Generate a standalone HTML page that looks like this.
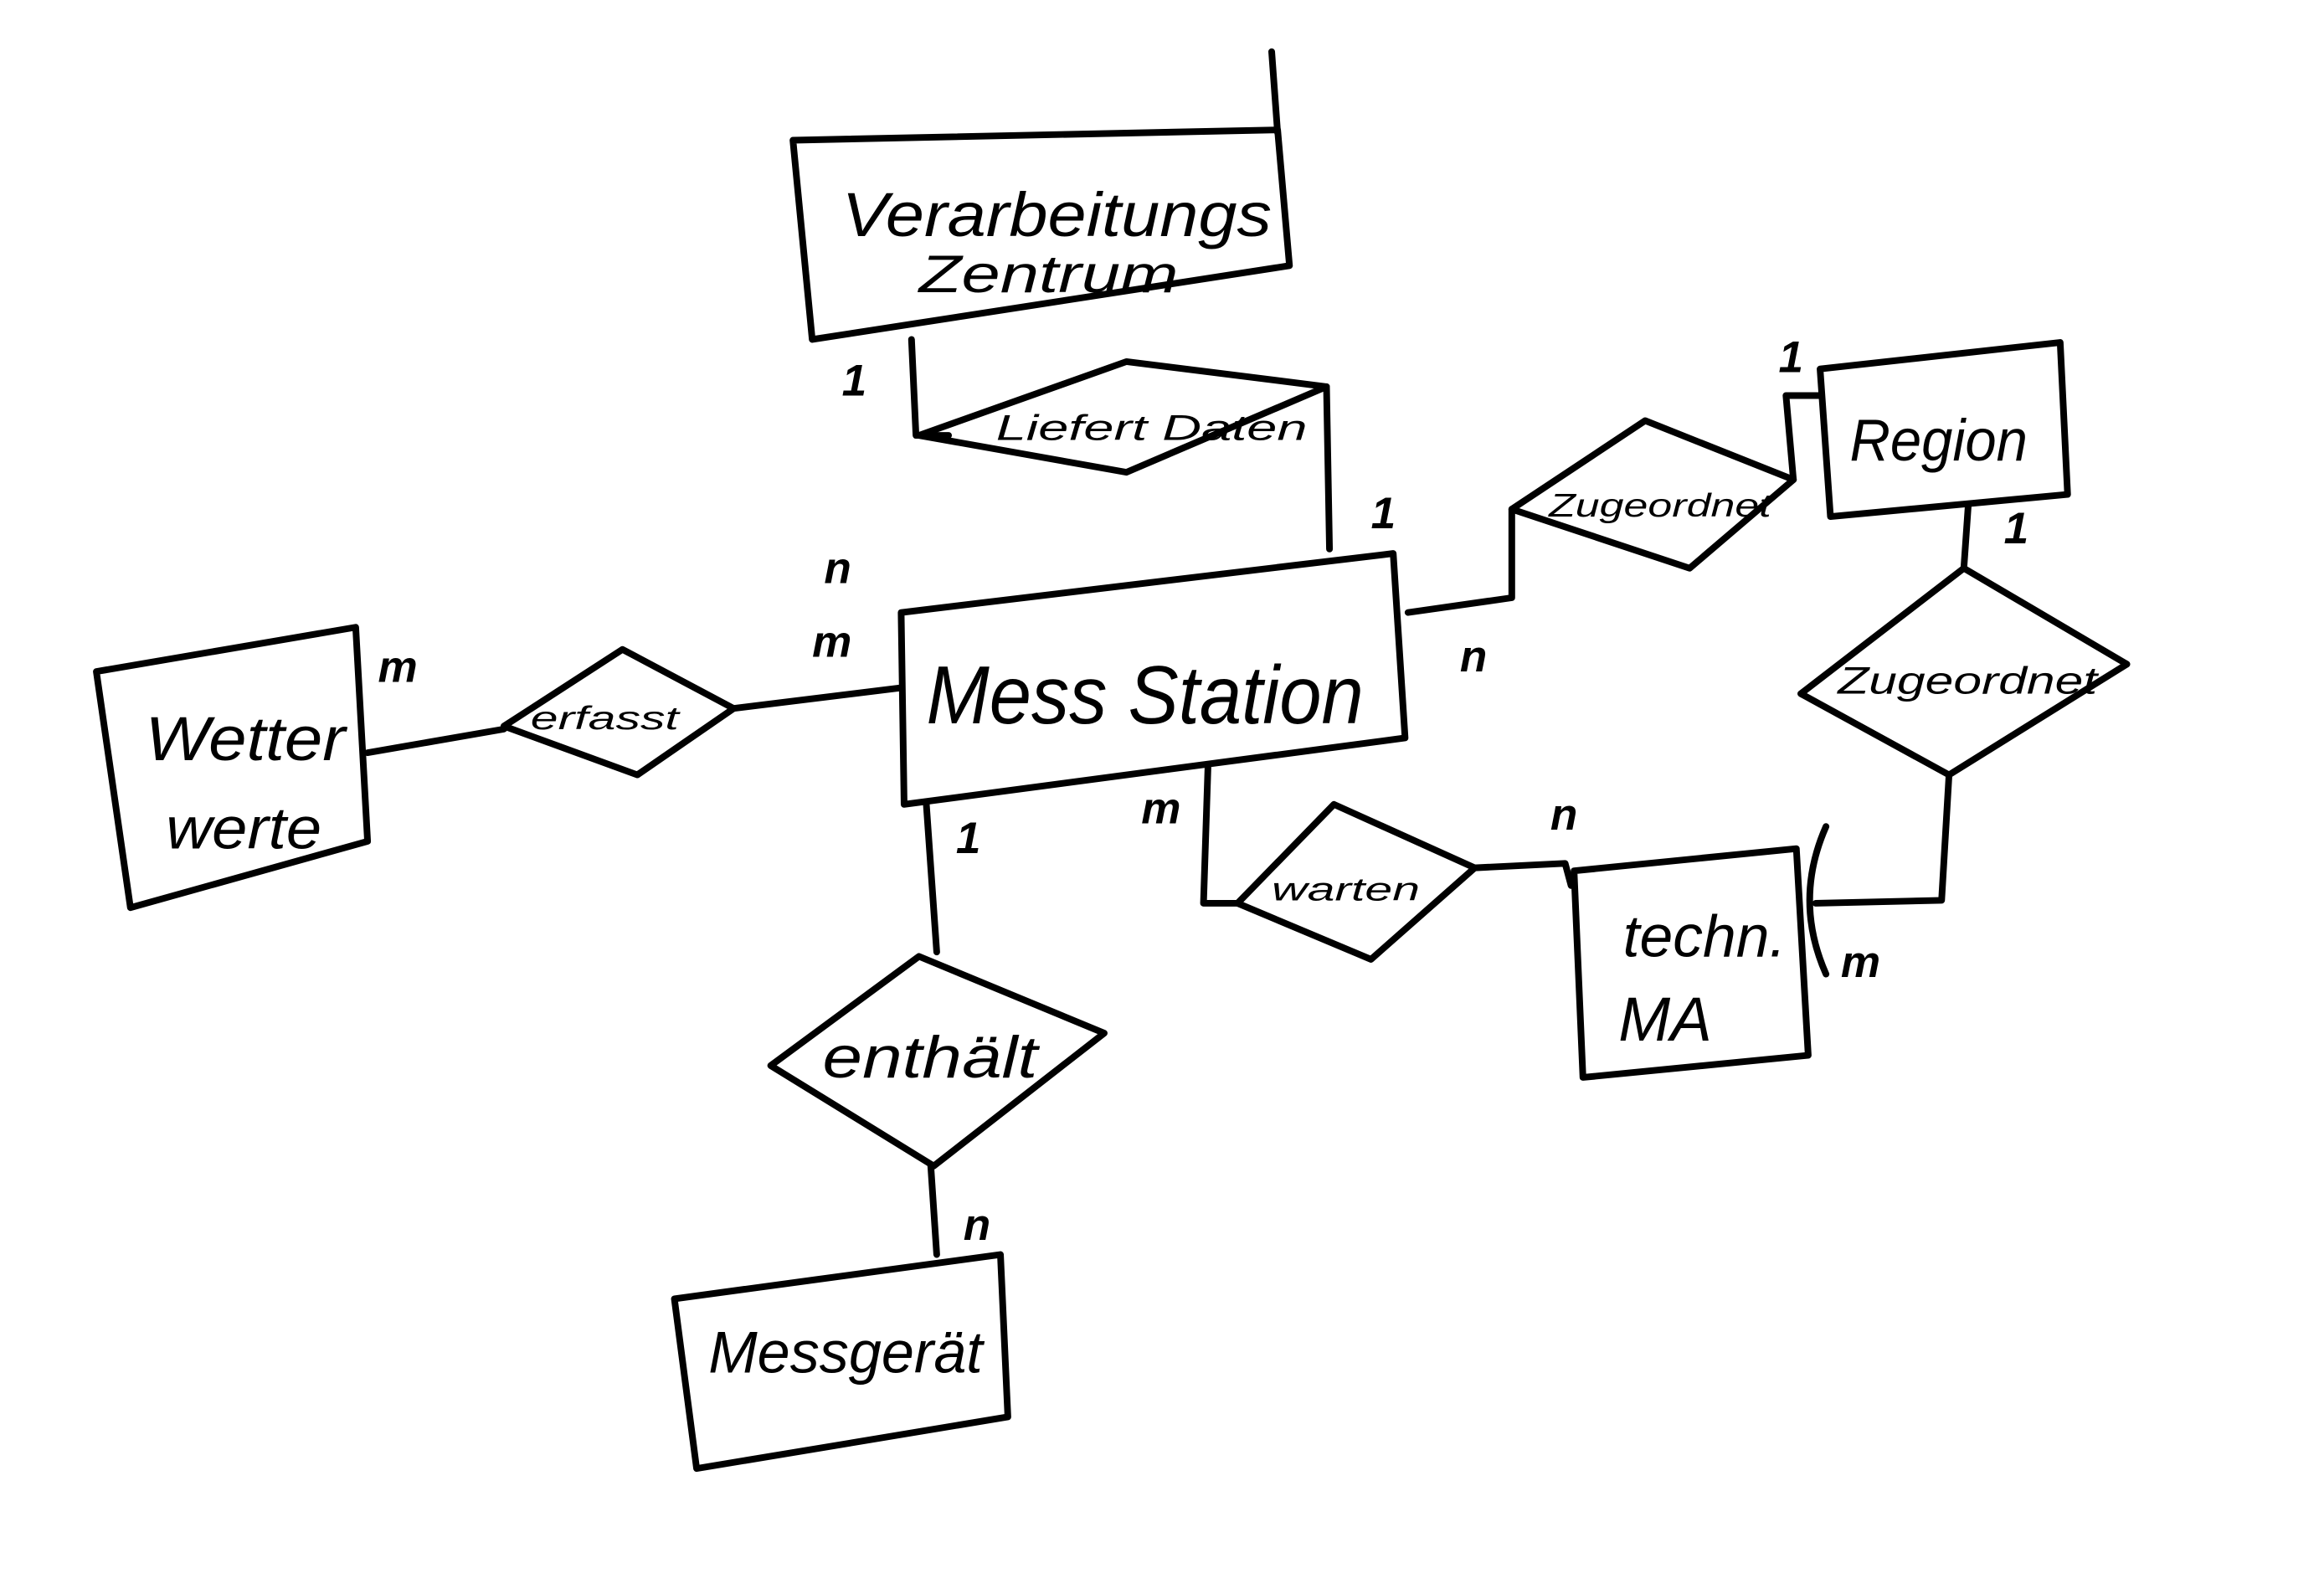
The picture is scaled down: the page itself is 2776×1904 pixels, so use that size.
<!DOCTYPE html>
<html><head><meta charset="utf-8">
<style>
html,body{margin:0;padding:0;background:#fff;}
svg{display:block}
text{font-family:"Liberation Sans",sans-serif;font-style:italic;fill:#000;}
</style></head><body>
<svg width="2776" height="1904" viewBox="0 0 1568 1080" preserveAspectRatio="none" xmlns="http://www.w3.org/2000/svg">
<g fill="none" stroke="#000" stroke-width="4.5" stroke-linejoin="round" stroke-linecap="round">
<polygon points="535,95 862,88 870,180 548,230"/>
<line x1="858" y1="35" x2="862" y2="90"/>
<polygon points="620,295 760,245 895,262 760,320"/>
<polyline points="615,230 618,295 640,295"/>
<line x1="895" y1="262" x2="897" y2="372"/>
<polygon points="608,415 940,375 948,500 610,545"/>
<polygon points="65,455 240,425 248,570 88,615"/>
<polygon points="340,492 420,440 495,480 430,525"/>
<line x1="248" y1="510" x2="340" y2="494"/>
<line x1="495" y1="480" x2="608" y2="466"/>
<polygon points="1020,345 1110,285 1210,325 1140,385"/>
<polyline points="950,415 1020,405 1020,345"/>
<polyline points="1210,325 1205,268 1228,268"/>
<polygon points="1228,250 1390,232 1395,335 1235,350"/>
<polygon points="1325,385 1435,450 1315,525 1215,470"/>
<line x1="1328" y1="342" x2="1325" y2="385"/>
<polyline points="1315,525 1310,610 1225,612"/>
<polygon points="1062,590 1212,575 1220,715 1068,730"/>
<path d="M1232,560 Q1210,610 1232,660"/>
<polygon points="835,612 900,545 995,588 925,650"/>
<polyline points="815,520 812,612 835,612"/>
<polyline points="995,588 1056,585 1060,600"/>
<polygon points="520,722 620,648 745,700 630,790"/>
<line x1="625" y1="545" x2="632" y2="645"/>
<line x1="628" y1="790" x2="632" y2="850"/>
<polygon points="455,880 675,850 680,960 470,995"/>
</g>
<text x="568" y="160" font-size="42" textLength="290" lengthAdjust="spacingAndGlyphs">Verarbeitungs</text>
<text x="620" y="198" font-size="36" textLength="175" lengthAdjust="spacingAndGlyphs">Zentrum</text>
<text x="672" y="298" font-size="24" textLength="210" lengthAdjust="spacingAndGlyphs">Liefert Daten</text>
<text x="625" y="490" font-size="56" textLength="295" lengthAdjust="spacingAndGlyphs">Mess Station</text>
<text x="98" y="515" font-size="42" textLength="135" lengthAdjust="spacingAndGlyphs">Wetter</text>
<text x="112" y="575" font-size="40" textLength="105" lengthAdjust="spacingAndGlyphs">werte</text>
<text x="358" y="494" font-size="22" textLength="100" lengthAdjust="spacingAndGlyphs">erfasst</text>
<text x="1045" y="350" font-size="22" textLength="150" lengthAdjust="spacingAndGlyphs">Zugeordnet</text>
<text x="1248" y="312" font-size="40" textLength="120" lengthAdjust="spacingAndGlyphs">Region</text>
<text x="1240" y="470" font-size="26" textLength="175" lengthAdjust="spacingAndGlyphs">Zugeordnet</text>
<text x="858" y="610" font-size="22" textLength="100" lengthAdjust="spacingAndGlyphs">warten</text>
<text x="1095" y="648" font-size="40" textLength="110" lengthAdjust="spacingAndGlyphs">techn.</text>
<text x="1092" y="705" font-size="42">MA</text>
<text x="555" y="730" font-size="40" textLength="145" lengthAdjust="spacingAndGlyphs">enthält</text>
<text x="478" y="930" font-size="40" textLength="185" lengthAdjust="spacingAndGlyphs">Messgerät</text>
<g font-size="30" font-weight="bold">
<text x="568" y="268">1</text>
<text x="925" y="358">1</text>
<text x="556" y="395">n</text>
<text x="548" y="445">m</text>
<text x="255" y="462">m</text>
<text x="985" y="455">n</text>
<text x="1200" y="252">1</text>
<text x="1352" y="368">1</text>
<text x="1046" y="562">n</text>
<text x="770" y="558">m</text>
<text x="1242" y="662">m</text>
<text x="645" y="578">1</text>
<text x="650" y="840">n</text>
</g>
</svg>
</body></html>
